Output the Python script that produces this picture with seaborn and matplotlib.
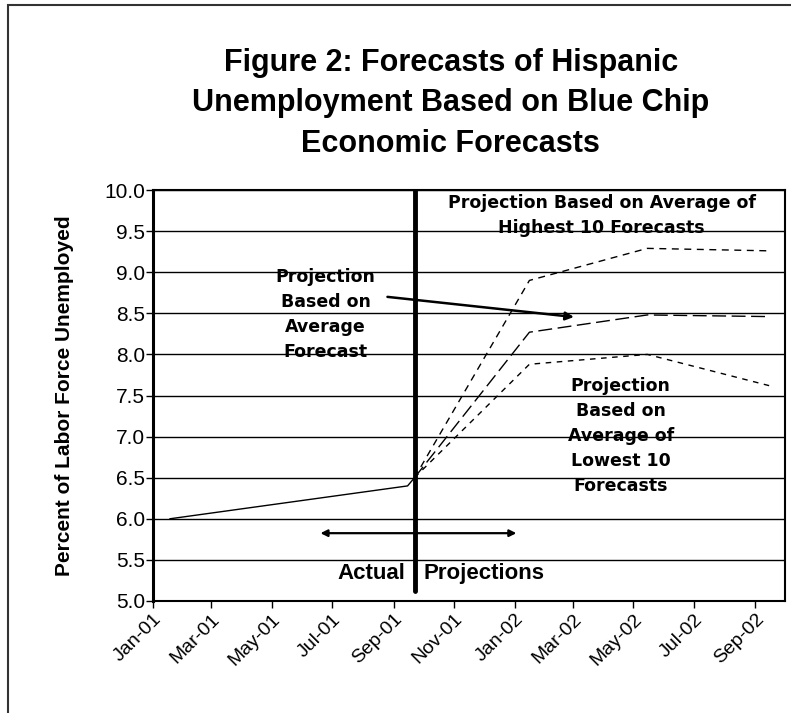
#!/usr/bin/env python3
"""Figure 2: Hispanic unemployment forecasts based on Blue Chip forecasts."""

import matplotlib
matplotlib.use("Agg")
import matplotlib.dates as mdates
import matplotlib.pyplot as plt
import matplotlib.patches as mpatches
import pandas as pd
import seaborn as sns

# actual series (percent)
actual_dates = ["2001-01-18", "2001-09-15", "2001-09-22"]
actual_values = [6.0, 6.4, 6.5]

# projections all start from the last actual point
proj_dates = ["2001-09-22", "2002-01-16", "2002-05-15", "2002-09-15"]
highest_values = [6.5, 8.90, 9.29, 9.26]
average_values = [6.5, 8.27, 8.48, 8.46]
lowest_values = [6.5, 7.88, 8.00, 7.62]

split_date = "2001-09-22"
x_start, x_end = "2001-01-01", "2002-10-01"
y_ticks = [5.0, 5.5, 6.0, 6.5, 7.0, 7.5, 8.0, 8.5, 9.0, 9.5, 10.0]
x_tick_dates = ["2001-01-01", "2001-03-01", "2001-05-01", "2001-07-01", "2001-09-01",
                "2001-11-01", "2002-01-01", "2002-03-01", "2002-05-01", "2002-07-01",
                "2002-09-01"]


def build_frame() -> pd.DataFrame:
    parts = [
        pd.DataFrame({"date": actual_dates, "rate": actual_values, "series": "Actual"}),
        pd.DataFrame({"date": proj_dates, "rate": highest_values, "series": "Highest"}),
        pd.DataFrame({"date": proj_dates, "rate": average_values, "series": "Average"}),
        pd.DataFrame({"date": proj_dates, "rate": lowest_values, "series": "Lowest"}),
    ]
    df = pd.concat(parts, ignore_index=True)
    df["date"] = pd.to_datetime(df["date"])
    return df


def main() -> None:
    sns.set_theme(style="ticks")
    plt.rcParams["font.family"] = ["Liberation Sans", "DejaVu Sans"]
    for key in ["text.color", "axes.labelcolor", "xtick.color", "ytick.color"]:
        plt.rcParams[key] = "black"

    df = build_frame()
    fig = plt.figure(figsize=(7.91, 7.13), dpi=100)
    ax = fig.add_axes([0.1934, 0.1571, 0.7990, 0.5764])

    sns.lineplot(
        data=df, x="date", y="rate", hue="series", style="series",
        palette={"Actual": "black", "Highest": "black", "Average": "black", "Lowest": "black"},
        dashes={"Actual": "", "Highest": (5, 4), "Average": (10, 4), "Lowest": (4, 4)},
        linewidth=1.0, sort=False, legend=False, ax=ax,
    )

    ax.set_xlim(pd.Timestamp(x_start), pd.Timestamp(x_end))
    ax.set_ylim(5.0, 10.0)
    ax.set_yticks(y_ticks)
    ax.set_yticklabels([f"{v:.1f}" for v in y_ticks], fontsize=15)
    ax.set_xticks(pd.to_datetime(x_tick_dates))
    ax.xaxis.set_major_formatter(mdates.DateFormatter("%b-%y"))
    plt.setp(ax.get_xticklabels(), rotation=45, ha="right", rotation_mode="anchor", fontsize=14)
    ax.tick_params(axis="both", direction="out", length=5, width=1, color="black")
    ax.tick_params(axis="y", pad=0.5)
    ax.tick_params(axis="x", pad=2)
    ax.set_xlabel("")
    ax.set_ylabel("Percent of Labor Force Unemployed", fontsize=15, fontweight="bold")
    ax.yaxis.set_label_coords(-0.125, 0.5)

    ax.grid(False)
    for y in y_ticks[1:]:
        ax.axhline(y, color="black", linewidth=1.0, zorder=0)
    for side in ["left", "bottom", "top", "right"]:
        ax.spines[side].set_color("black")
        ax.spines[side].set_linewidth(1.5)
    ax.spines["left"].set_linewidth(2.2)

    # divider between actual and projected data
    ax.axvline(pd.Timestamp(split_date), ymin=0.024, ymax=1.0, color="black", linewidth=3.5)

    label_font = dict(family="DejaVu Sans", fontweight="bold", fontsize=12.5, ha="center",
                      va="center", linespacing=1.5, transform=ax.transAxes)
    ax.text(0.710, 0.939, "Projection Based on Average of\nHighest 10 Forecasts", **label_font)
    ax.text(0.273, 0.698, "Projection\nBased on\nAverage\nForecast", **label_font)
    ax.text(0.740, 0.401, "Projection\nBased on\nAverage of\nLowest 10\nForecasts", **label_font)

    ax.text(0.399, 0.066, "Actual", transform=ax.transAxes, ha="right", va="center",
            fontsize=16, fontweight="bold")
    ax.text(0.428, 0.066, "Projections", transform=ax.transAxes, ha="left", va="center",
            fontsize=16, fontweight="bold")

    ax.annotate("", xy=(0.666, 0.691), xytext=(0.371, 0.740), xycoords="axes fraction",
                arrowprops=dict(arrowstyle="-|>", color="black", lw=1.8, mutation_scale=12,
                                shrinkA=0, shrinkB=0))
    ax.annotate("", xy=(0.575, 0.165), xytext=(0.265, 0.165), xycoords="axes fraction",
                arrowprops=dict(arrowstyle="<|-|>", color="black", lw=1.6, mutation_scale=10,
                                shrinkA=0, shrinkB=0))

    fig.text(0.570, 0.855,
             "Figure 2: Forecasts of Hispanic\nUnemployment Based on Blue Chip\nEconomic Forecasts",
             ha="center", va="center", fontsize=22, fontweight="bold", linespacing=1.44)

    frame = mpatches.Rectangle((8 / 791, -0.1), 1.2, 1.1 - 5 / 713, transform=fig.transFigure,
                               fill=False, edgecolor="#333333", linewidth=1.5)
    fig.patches.append(frame)

    fig.savefig("out.png", dpi=100)
    plt.close(fig)


if __name__ == "__main__":
    main()
